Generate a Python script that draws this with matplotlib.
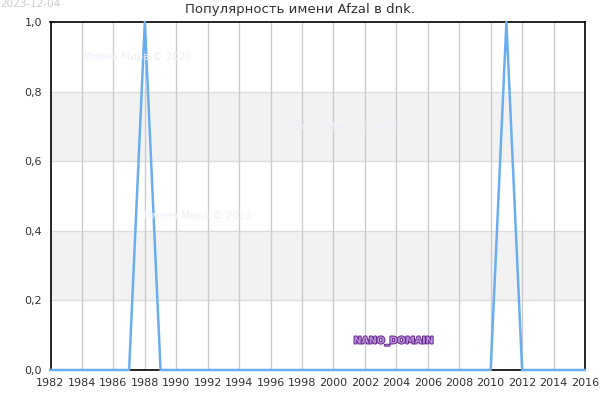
import matplotlib
matplotlib.use("Agg")
import matplotlib.pyplot as plt
import matplotlib.patheffects as pe
from matplotlib.ticker import FuncFormatter, MultipleLocator

years = list(range(1982, 2017))
peaks = {1988: 1.0, 2011: 1.0}
values = [peaks.get(y, 0.0) for y in years]

title = "Популярность имени Afzal в dnk."
date_label = "2023-12-04"
watermark = "Имена Мира © 2023"

fig = plt.figure(figsize=(6, 4), dpi=100)
ax = fig.add_axes([50.5 / 600, 1 - 370 / 400, (585 - 50.5) / 600, (370 - 22) / 400])

for lo, hi in [(0.2, 0.4), (0.6, 0.8)]:
    ax.axhspan(lo, hi, color="#f2f2f2", zorder=0, lw=0)
for yv in [0.2, 0.4, 0.6, 0.8]:
    ax.axhline(yv, color="#dddddd", lw=1, zorder=1)
for xv in range(1984, 2016, 2):
    ax.axvline(xv, color="#cccccc", lw=1, zorder=1)

ax.plot(years, values, color="#6aaef0", lw=1.8, zorder=3, clip_on=False)

ax.set_xlim(1982, 2016)
ax.set_ylim(0, 1)
ax.xaxis.set_major_locator(MultipleLocator(2))
ax.yaxis.set_major_locator(MultipleLocator(0.2))
ax.yaxis.set_major_formatter(FuncFormatter(lambda v, p: f"{v:.1f}".replace(".", ",")))
ax.tick_params(axis="both", labelsize=8, colors="#333333", length=0, pad=6)
for s in ax.spines.values():
    s.set_color("black")
    s.set_linewidth(1.2)

fig.text(0.5, 1 - 10 / 400, title, ha="center", va="center", fontsize=9.5, color="#333333")
fig.text(0.0, 1 - 4 / 400, date_label, ha="left", va="center", fontsize=7.5, color="#cccccc")

for (x, y) in [(138, 57), (343, 127), (198, 216)]:
    fig.text(x / 600, 1 - y / 400, watermark, ha="center", va="center", fontsize=7.3, color="#eeeefc", zorder=5)

fig.text(394 / 600, 1 - 341 / 400, "NANO_DOMAIN", ha="center", va="center", fontsize=6.8,
         color="#b88fd6", fontweight="bold", zorder=6,
         path_effects=[pe.withStroke(linewidth=1.5, foreground="#6a2d91")])

fig.savefig("out.png", dpi=100)
